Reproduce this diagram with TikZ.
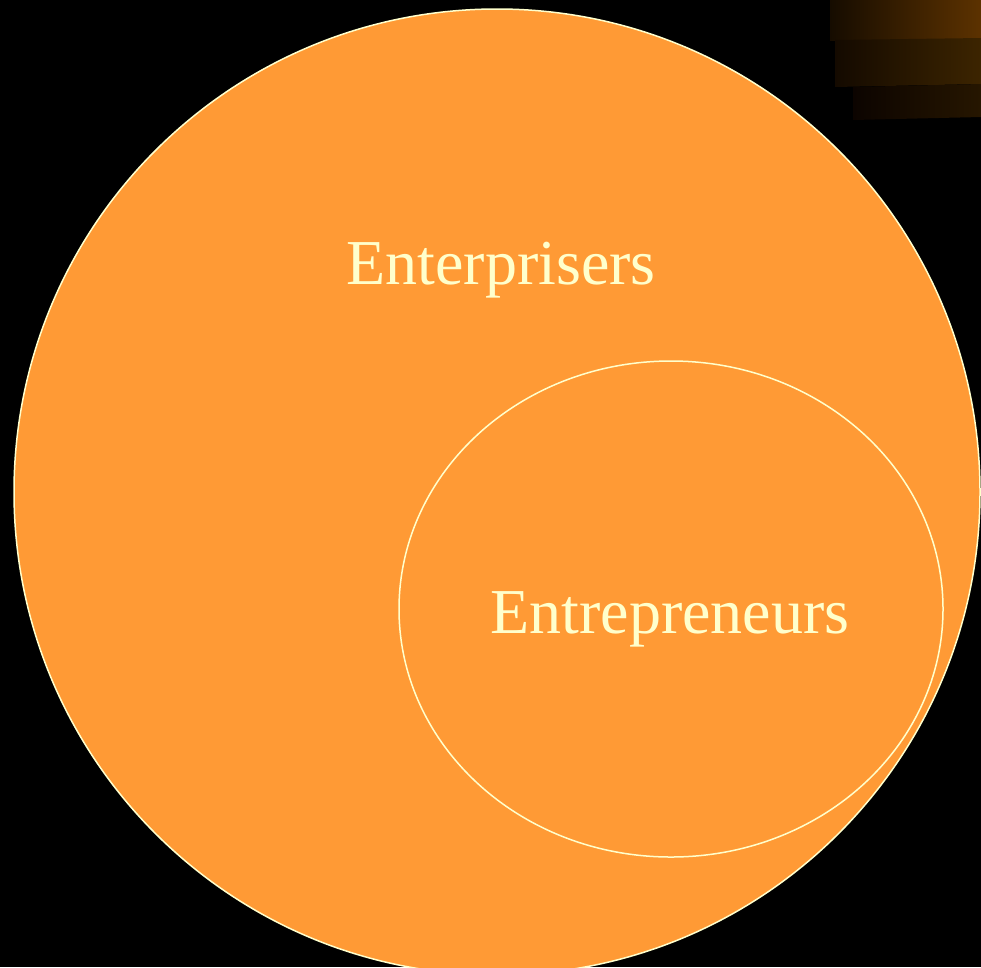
\documentclass[tikz,border=0pt]{standalone}
\usepackage{fontspec}
\setmainfont{Liberation Serif}
\usetikzlibrary{shapes.geometric}
\definecolor{bandorange}{HTML}{FF9A35}
\definecolor{paleyellow}{HTML}{FFFFCC}
\definecolor{brownA}{HTML}{5C3200}
\definecolor{brownB}{HTML}{3C2400}
\definecolor{brownC}{HTML}{261600}
\definecolor{darkA}{HTML}{160C00}
\definecolor{darkB}{HTML}{140A00}
\definecolor{darkC}{HTML}{0C0400}
\tikzset{
  setshape/.style={fill=bandorange, draw=paleyellow, line width=1.5pt},
  setlabel/.style={text=paleyellow, font=\fontsize{64}{72}\selectfont, inner sep=0pt, anchor=base},
}
\begin{document}
\begin{tikzpicture}[x=1pt,y=-1pt]
\fill[black] (0,0) rectangle (981,967);
\useasboundingbox (0,0) rectangle (981,967);
% top-right shaded bands
\shade[left color=darkA, right color=brownA] (830,0) rectangle (981,40);
\shade[left color=darkB, right color=brownB] (835,40) -- (981,38) -- (981,84) -- (835,87) -- cycle;
\shade[left color=darkC, right color=brownC] (853,87) -- (981,84) -- (981,117) -- (853,120) -- cycle;
\begin{scope}
\clip (0,0) rectangle (981,967);
\node[setshape, circle, minimum size=966pt, inner sep=0pt] (big) at (497,492) {};
\end{scope}
\node[setshape, ellipse, minimum width=544pt, minimum height=496pt, inner sep=0pt] (inner) at (671,609) {};
\node[setlabel] (lab1) at (501,284) {Enterprisers};
\node[setlabel] (lab2) at (670,633) {Entrepreneurs};
\end{tikzpicture}
\end{document}
